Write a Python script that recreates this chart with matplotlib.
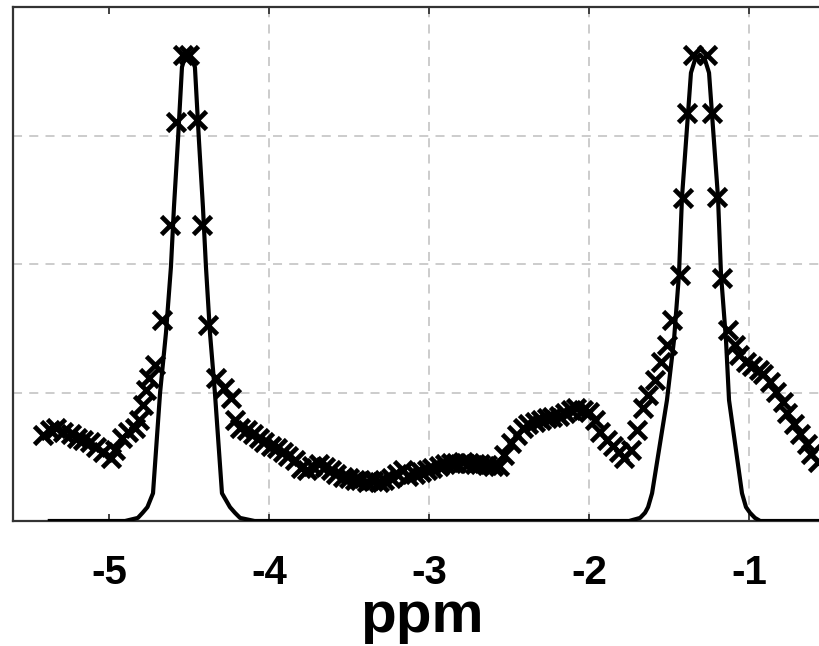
import numpy as np
import matplotlib
matplotlib.use("Agg")
import matplotlib.pyplot as plt

# measured points (x markers), ppm vs normalised intensity
marker_ppm = [
    -5.41, -5.37, -5.33, -5.29, -5.24, -5.20, -5.16, -5.12, -5.08, -5.04,
    -4.99, -4.96, -4.92, -4.88, -4.84, -4.81, -4.79, -4.77, -4.75, -4.71,
    -4.67, -4.62, -4.58, -4.54, -4.50, -4.45, -4.42, -4.38, -4.33, -4.28,
    -4.24, -4.21, -4.18, -4.14, -4.10, -4.06, -4.03, -3.99, -3.95, -3.91,
    -3.88, -3.84, -3.80, -3.76, -3.73, -3.69, -3.65, -3.61, -3.58, -3.54,
    -3.50, -3.46, -3.43, -3.39, -3.35, -3.31, -3.28, -3.24, -3.20, -3.16,
    -3.13, -3.09, -3.05, -3.01, -2.98, -2.94, -2.90, -2.86, -2.83, -2.79,
    -2.75, -2.71, -2.68, -2.64, -2.60, -2.56, -2.53, -2.49, -2.45, -2.41,
    -2.38, -2.34, -2.30, -2.26, -2.23, -2.19, -2.15, -2.11, -2.08, -2.04,
    -2.00, -1.96, -1.93, -1.89, -1.85, -1.81, -1.78, -1.74, -1.70, -1.66,
    -1.63, -1.59, -1.55, -1.51, -1.48, -1.43, -1.41, -1.39, -1.35, -1.26,
    -1.23, -1.20, -1.17, -1.13, -1.09, -1.06, -1.02, -0.98, -0.94, -0.91,
    -0.87, -0.83, -0.79, -0.76, -0.72, -0.68, -0.64, -0.61, -0.57,
]
marker_int = [
    0.167, 0.177, 0.181, 0.173, 0.169, 0.161, 0.158, 0.154, 0.144, 0.134,
    0.123, 0.138, 0.161, 0.173, 0.181, 0.196, 0.226, 0.255, 0.278, 0.304,
    0.391, 0.576, 0.776, 0.907, 0.907, 0.780, 0.576, 0.381, 0.278, 0.259,
    0.239, 0.196, 0.181, 0.177, 0.169, 0.161, 0.154, 0.146, 0.142, 0.134,
    0.126, 0.119, 0.103, 0.099, 0.107, 0.111, 0.105, 0.099, 0.091, 0.086,
    0.084, 0.080, 0.080, 0.076, 0.078, 0.076, 0.080, 0.084, 0.091, 0.099,
    0.088, 0.091, 0.095, 0.099, 0.103, 0.107, 0.111, 0.113, 0.113, 0.115,
    0.113, 0.111, 0.111, 0.109, 0.107, 0.107, 0.128, 0.152, 0.167, 0.181,
    0.189, 0.193, 0.196, 0.200, 0.202, 0.204, 0.210, 0.216, 0.220, 0.216,
    0.212, 0.196, 0.173, 0.158, 0.146, 0.134, 0.123, 0.138, 0.177, 0.220,
    0.245, 0.274, 0.309, 0.342, 0.391, 0.479, 0.628, 0.794, 0.907, 0.907,
    0.794, 0.630, 0.473, 0.372, 0.342, 0.323, 0.309, 0.302, 0.294, 0.286,
    0.270, 0.251, 0.232, 0.210, 0.189, 0.169, 0.150, 0.130, 0.115,
]

# fitted curve (solid line)
fit_ppm = [
    -5.37, -4.90, -4.82, -4.79, -4.76, -4.725, -4.681, -4.644, -4.613, -4.594,
    -4.569, -4.544, -4.525, -4.506, -4.488, -4.463, -4.438, -4.413, -4.394,
    -4.369, -4.338, -4.294, -4.244, -4.213, -4.181, -4.09,
    -1.75, -1.681, -1.65, -1.631, -1.606, -1.513, -1.469, -1.438, -1.419,
    -1.363, -1.338, -1.306, -1.275, -1.25, -1.194, -1.175, -1.144, -1.125,
    -1.044, -1.019, -0.994, -0.963, -0.93, -0.45,
]
fit_int = [
    0.0, 0.0, 0.006, 0.016, 0.027, 0.054, 0.249, 0.366, 0.494, 0.611,
    0.741, 0.883, 0.903, 0.907, 0.903, 0.883, 0.741, 0.611, 0.494,
    0.366, 0.249, 0.054, 0.027, 0.016, 0.006, 0.0,
    0.0, 0.006, 0.016, 0.027, 0.054, 0.235, 0.352, 0.479, 0.630,
    0.872, 0.897, 0.907, 0.897, 0.872, 0.630, 0.479, 0.352, 0.235,
    0.054, 0.027, 0.016, 0.006, 0.0, 0.0,
]

xticks = [-5, -4, -3, -2, -1]
xtick_labels = ["-5", "-4", "-3", "-2", "-1"]
yticks = [0, 0.25, 0.5, 0.75, 1.0]

plt.rcParams['font.family'] = ['Liberation Sans', 'DejaVu Sans']

fig = plt.figure(figsize=(8.2, 6.46), dpi=100)
ax = fig.add_axes([13 / 820, 125 / 646, 817 / 820, 514 / 646])

ax.plot(fit_ppm, fit_int, color='black', lw=3.0, zorder=3)
ax.plot(marker_ppm, marker_int, ls='none', marker='x', color='black',
        ms=12.5, mew=3.4, zorder=4)

ax.set_xlim(-5.6, -0.494)
ax.set_ylim(0, 1)
ax.set_xticks(xticks)
ax.set_xticklabels(xtick_labels, fontsize=29, fontweight='bold')
ax.set_yticks(yticks)
ax.set_yticklabels([])

ax.grid(True, ls=(0, (5, 4)), color='#c8c8c8', lw=1.3)
ax.get_xgridlines()[0].set_visible(False)

ax.tick_params(axis='x', direction='in', length=5, width=1.3, pad=24,
               top=True, color='#333333')
ax.tick_params(axis='y', length=0)
for s in ax.spines.values():
    s.set_linewidth(1.6)
    s.set_color('#333333')
ax.spines['right'].set_visible(False)

ax.set_xlabel('ppm', fontsize=42, fontweight='bold', labelpad=-2)

fig.savefig('out.png', dpi=100)
